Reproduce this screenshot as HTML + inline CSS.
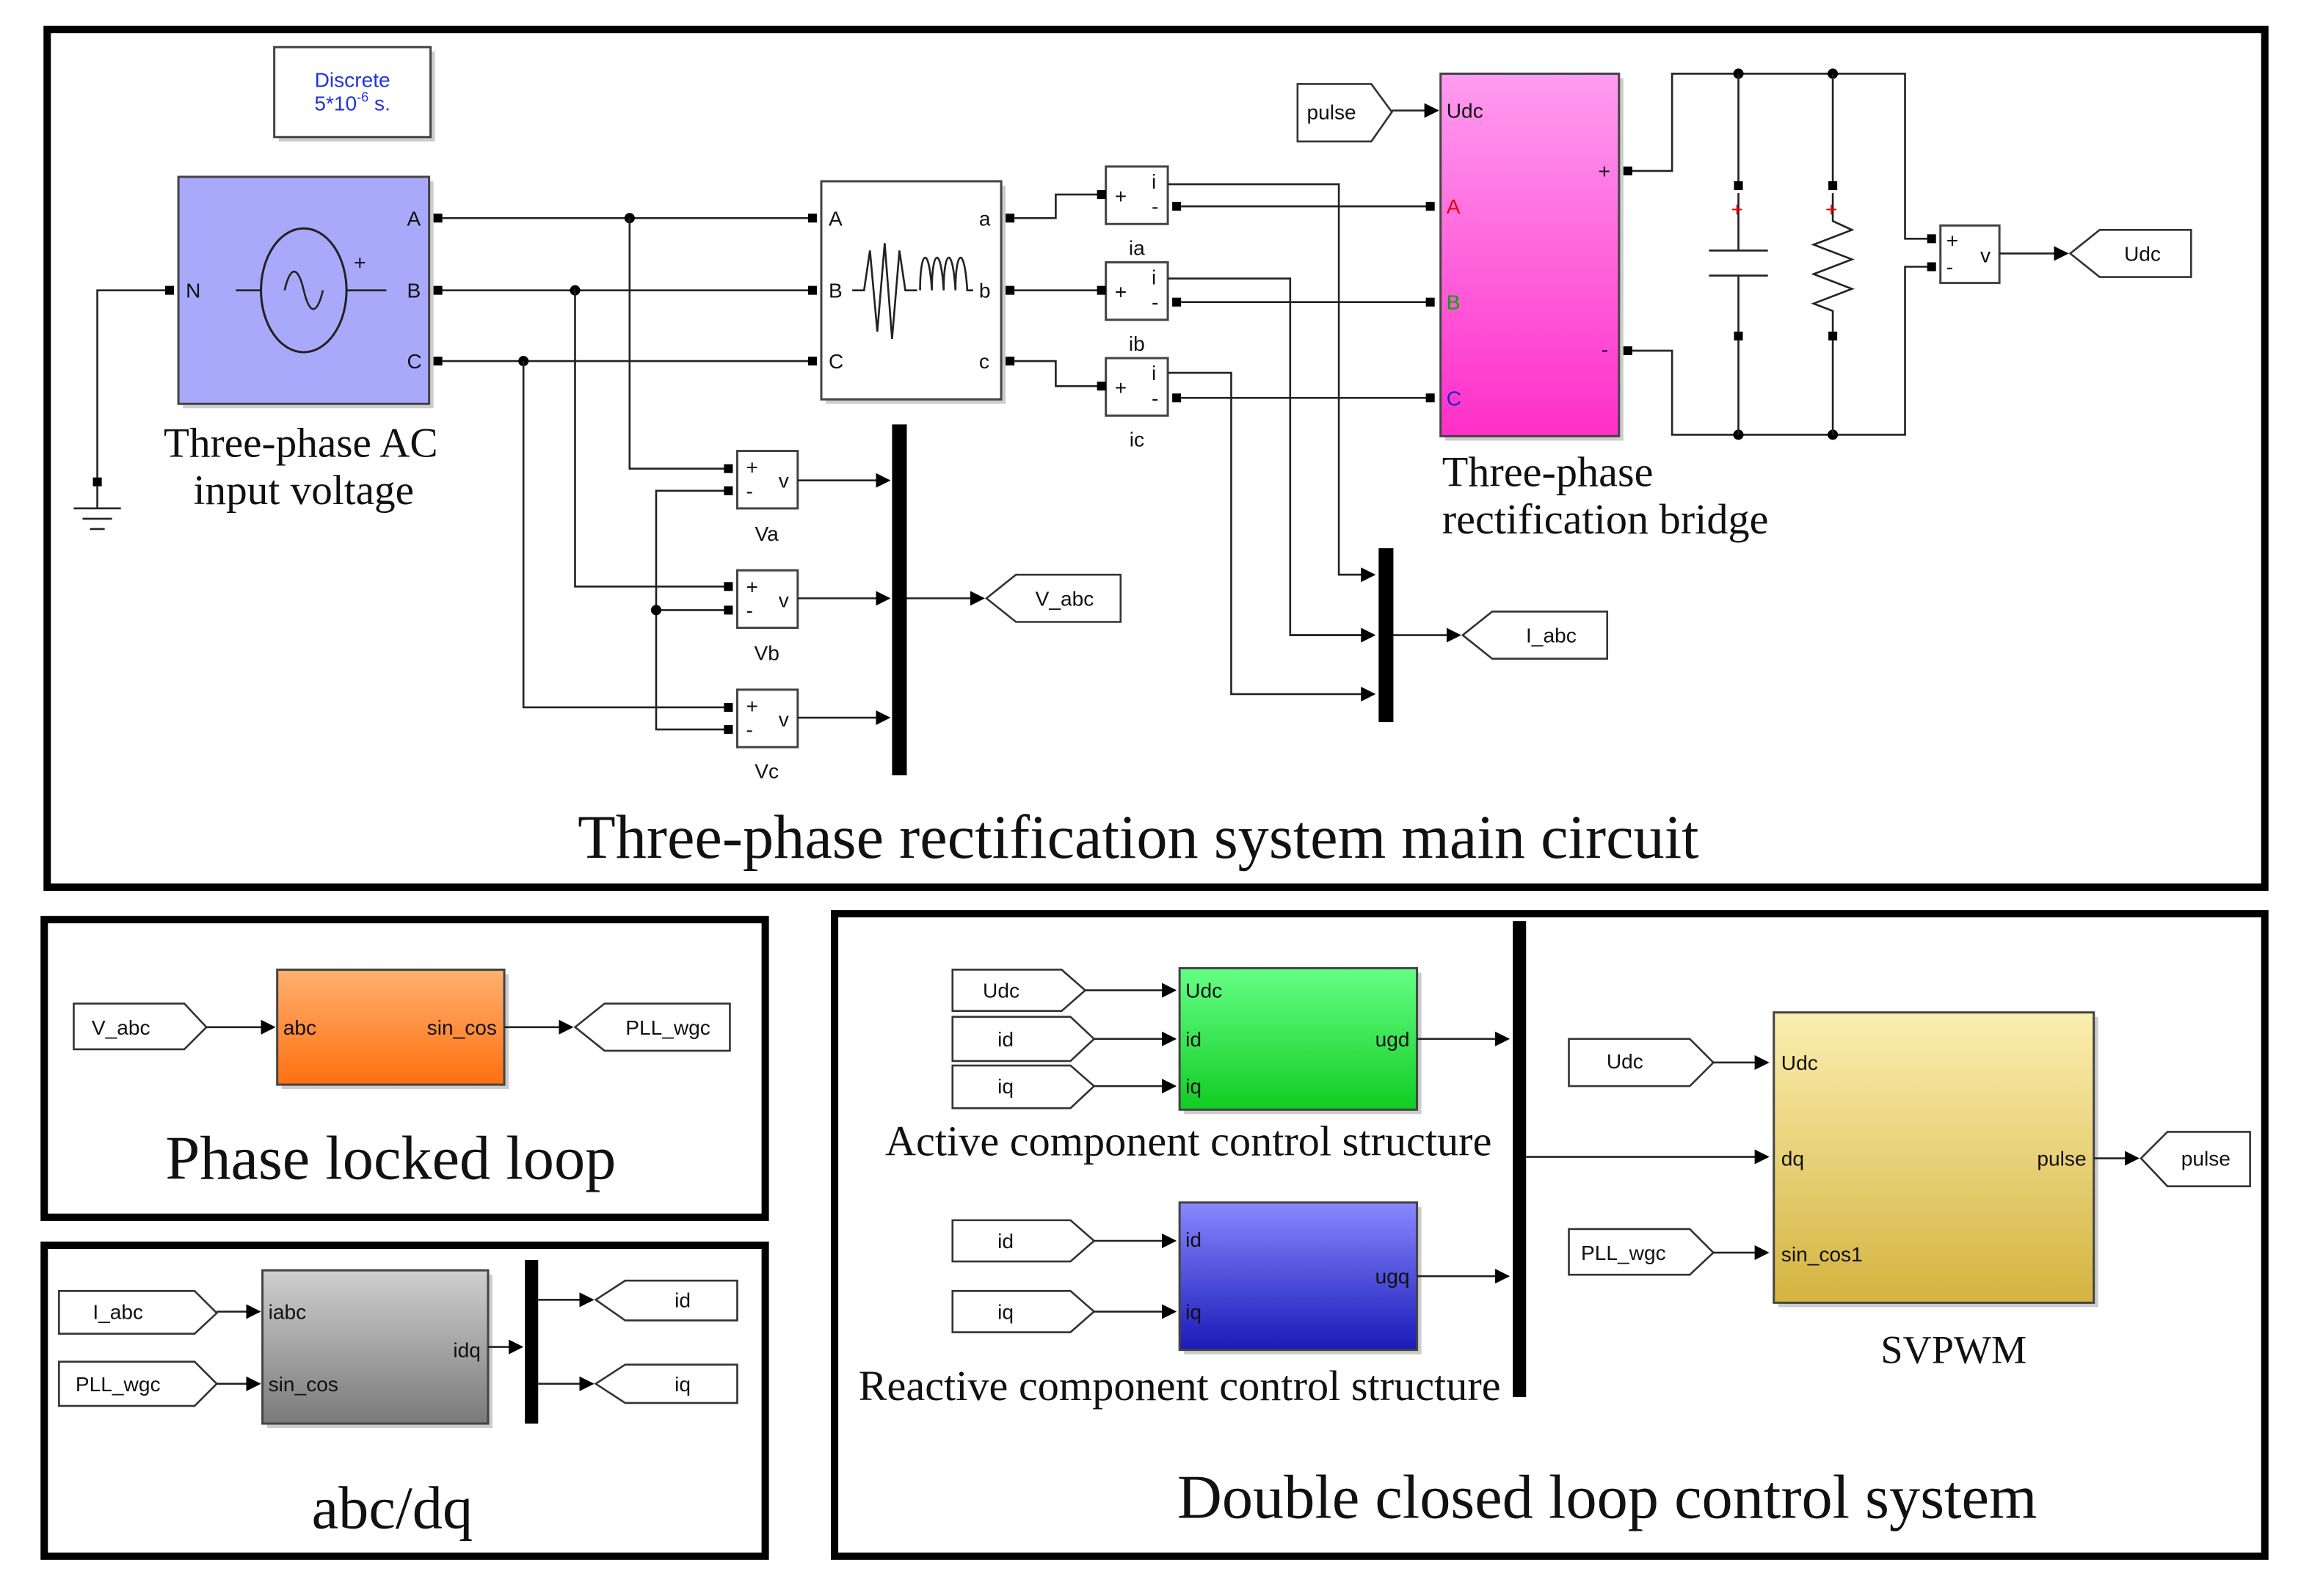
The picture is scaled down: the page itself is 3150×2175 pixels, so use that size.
<!DOCTYPE html>
<html><head><meta charset="utf-8"><style>
html,body{margin:0;padding:0;background:#fff}
svg{display:block}
.s{font-family:"Liberation Sans",sans-serif;font-size:14px;fill:#111}
.t{font-family:"Liberation Serif",serif;fill:#111}
.w{stroke:#222;stroke-width:1.3;fill:none}
.b{stroke:#444;stroke-width:1.5}
</style></head><body>
<svg width="3150" height="2175" viewBox="0 0 1568 1083" preserveAspectRatio="none" xmlns="http://www.w3.org/2000/svg">
<defs>
<marker id="ar" markerWidth="10" markerHeight="10" refX="9" refY="5" orient="auto" markerUnits="userSpaceOnUse"><path d="M0,0 L10,5 L0,10z" fill="#000"/></marker>
<linearGradient id="pk" x1="0" y1="0" x2="0" y2="1"><stop offset="0" stop-color="#ff9cf0"/><stop offset="1" stop-color="#ff2ec8"/></linearGradient>
<linearGradient id="or" x1="0" y1="0" x2="0" y2="1"><stop offset="0" stop-color="#ffb070"/><stop offset="1" stop-color="#ff7010"/></linearGradient>
<linearGradient id="gy" x1="0" y1="0" x2="0" y2="1"><stop offset="0" stop-color="#cfcfcf"/><stop offset="1" stop-color="#7a7a7a"/></linearGradient>
<linearGradient id="gr" x1="0" y1="0" x2="0" y2="1"><stop offset="0" stop-color="#66ff88"/><stop offset="1" stop-color="#11cc22"/></linearGradient>
<linearGradient id="bl" x1="0" y1="0" x2="0" y2="1"><stop offset="0" stop-color="#8888ff"/><stop offset="1" stop-color="#1a1ab8"/></linearGradient>
<linearGradient id="ye" x1="0" y1="0" x2="0" y2="1"><stop offset="0" stop-color="#fbeeb0"/><stop offset="1" stop-color="#d4b440"/></linearGradient>
</defs>

<rect x="32" y="20" width="1504" height="582" fill="none" stroke="#000" stroke-width="5"/>
<rect x="30" y="624" width="489" height="202" fill="none" stroke="#000" stroke-width="5"/>
<rect x="30" y="845" width="489" height="211" fill="none" stroke="#000" stroke-width="5"/>
<rect x="566" y="620" width="970" height="436" fill="none" stroke="#000" stroke-width="5"/>

<rect x="189" y="35" width="106" height="61" fill="#ccc"/>
<rect x="186" y="32" width="106" height="61" fill="#fff" class="b"/>
<text x="239" y="59" class="s" style="fill:#2233dd" text-anchor="middle">Discrete</text>
<text x="239" y="75" class="s" style="fill:#2233dd" text-anchor="middle">5*10<tspan font-size="9" dy="-6">-6</tspan><tspan dy="6"> s.</tspan></text>

<rect x="124" y="123" width="170" height="154" fill="#ccc"/>
<rect x="121" y="120" width="170" height="154" fill="#a9a9fb" class="b"/>
<ellipse cx="206" cy="197" rx="29" ry="42" fill="none" stroke="#222" stroke-width="1.5"/>
<path d="M160,197 H177 M235,197 H262" class="w"/>
<path d="M193,197 C197,180 202,180 206,197 C210,214 215,214 219,197" class="w"/>
<text x="240" y="183" class="s">+</text>
<text x="276" y="153" class="s">A</text><text x="276" y="202" class="s">B</text><text x="276" y="250" class="s">C</text>
<text x="126" y="202" class="s">N</text>
<rect x="294" y="145" width="6" height="6" fill="#000"/><rect x="294" y="194" width="6" height="6" fill="#000"/><rect x="294" y="242" width="6" height="6" fill="#000"/>
<rect x="112" y="194" width="6" height="6" fill="#000"/>
<path d="M112,197 H66 V324" class="w"/>
<rect x="63" y="324" width="6" height="6" fill="#000"/>
<path d="M66,330 V345 M50,345 H82 M56,352 H76 M61,359 H71" class="w"/>
<text x="204" y="310" class="t" font-size="28.5" text-anchor="middle">Three-phase AC</text>
<text x="206" y="342" class="t" font-size="28.5" text-anchor="middle">input voltage</text>

<path d="M300,148 H551 M300,197 H551 M300,245 H551" class="w"/>
<circle cx="427" cy="148" r="3.5"/><circle cx="390" cy="197" r="3.5"/><circle cx="355" cy="245" r="3.5"/>
<path d="M427,148 V318 H494 M390,197 V398 H494 M355,245 V480 H494" class="w"/>
<path d="M494,333 H445 V495 H494 M445,414 H494" class="w"/>
<circle cx="445" cy="414" r="3.5"/>

<rect x="560" y="126" width="122" height="148" fill="#ccc"/>
<rect x="557" y="123" width="122" height="148" fill="#fff" class="b"/>
<text x="562" y="153" class="s">A</text><text x="562" y="202" class="s">B</text><text x="562" y="250" class="s">C</text>
<text x="664" y="153" class="s">a</text><text x="664" y="202" class="s">b</text><text x="664" y="250" class="s">c</text>
<path d="M578,197 H586 L590,170 L595,225 L600,165 L605,230 L610,170 L614,197 H622" class="w"/>
<path d="M624,197 C624,170 630,165 632,197 C632,170 638,165 640,197 C640,170 646,165 648,197 C648,170 654,165 656,197 H660" class="w"/>
<rect x="548" y="145" width="6" height="6"/><rect x="548" y="194" width="6" height="6"/><rect x="548" y="242" width="6" height="6"/>
<rect x="682" y="145" width="6" height="6"/><rect x="682" y="194" width="6" height="6"/><rect x="682" y="242" width="6" height="6"/>

<path d="M688,148 H716 V132 H747 M688,197 H747 M688,245 H716 V262 H747" class="w"/>
<g>
<rect x="750" y="113" width="42" height="39" fill="#fff" class="b"/><rect x="744" y="129" width="6" height="6"/>
<text x="756" y="138" class="s">+</text><text x="781" y="128" class="s" font-size="12">i</text><text x="781" y="145" class="s" font-size="12">-</text>
<rect x="795" y="137" width="6" height="6"/><text x="771" y="173" class="s" font-size="17" text-anchor="middle">ia</text>
<rect x="750" y="178" width="42" height="39" fill="#fff" class="b"/><rect x="744" y="194" width="6" height="6"/>
<text x="756" y="203" class="s">+</text><text x="781" y="193" class="s" font-size="12">i</text><text x="781" y="210" class="s" font-size="12">-</text>
<rect x="795" y="202" width="6" height="6"/><text x="771" y="238" class="s" font-size="17" text-anchor="middle">ib</text>
<rect x="750" y="243" width="42" height="39" fill="#fff" class="b"/><rect x="744" y="259" width="6" height="6"/>
<text x="756" y="268" class="s">+</text><text x="781" y="258" class="s" font-size="12">i</text><text x="781" y="275" class="s" font-size="12">-</text>
<rect x="795" y="267" width="6" height="6"/><text x="771" y="303" class="s" font-size="17" text-anchor="middle">ic</text>
</g>
<path d="M801,140 H970 M801,205 H970 M801,270 H970" class="w"/>
<path d="M792,125 H908 V390 H932 M792,189 H875 V431 H932 M792,253 H835 V471 H932" class="w" marker-end="url(#ar)"/>
<path d="M875,431 H932" class="w" marker-end="url(#ar)"/><path d="M908,390 H932" class="w" marker-end="url(#ar)"/>
<rect x="935" y="372" width="10" height="118" fill="#000"/>
<path d="M945,431 H990" class="w" marker-end="url(#ar)"/>
<path d="M992,431 L1012,415 H1090 V447 H1012 Z" fill="#fff" stroke="#333" stroke-width="1.3"/>
<text x="1052" y="436" class="s" text-anchor="middle">I_abc</text>

<g>
<rect x="500" y="306" width="41" height="39" fill="#fff" class="b"/><rect x="491" y="315" width="6" height="6"/><rect x="491" y="330" width="6" height="6"/>
<text x="506" y="322" class="s">+</text><text x="506" y="338" class="s">-</text><text x="528" y="331" class="s" font-size="12">v</text>
<text x="520" y="367" class="s" font-size="17" text-anchor="middle">Va</text>
<rect x="500" y="387" width="41" height="39" fill="#fff" class="b"/><rect x="491" y="395" width="6" height="6"/><rect x="491" y="411" width="6" height="6"/>
<text x="506" y="403" class="s">+</text><text x="506" y="419" class="s">-</text><text x="528" y="412" class="s" font-size="12">v</text>
<text x="520" y="448" class="s" font-size="17" text-anchor="middle">Vb</text>
<rect x="500" y="468" width="41" height="39" fill="#fff" class="b"/><rect x="491" y="477" width="6" height="6"/><rect x="491" y="492" width="6" height="6"/>
<text x="506" y="484" class="s">+</text><text x="506" y="500" class="s">-</text><text x="528" y="493" class="s" font-size="12">v</text>
<text x="520" y="528" class="s" font-size="17" text-anchor="middle">Vc</text>
</g>
<path d="M541,326 H603" class="w" marker-end="url(#ar)"/><path d="M541,406 H603" class="w" marker-end="url(#ar)"/><path d="M541,487 H603" class="w" marker-end="url(#ar)"/>
<rect x="605" y="288" width="10" height="238" fill="#000"/>
<path d="M615,406 H667" class="w" marker-end="url(#ar)"/>
<path d="M669,406 L689,390 H760 V422 H689 Z" fill="#fff" stroke="#333" stroke-width="1.3"/>
<text x="722" y="411" class="s" text-anchor="middle">V_abc</text>

<rect x="980" y="53" width="121" height="246" fill="#ccc"/>
<rect x="977" y="50" width="121" height="246" fill="url(#pk)" class="b"/>
<text x="981" y="80" class="s" font-size="13">Udc</text>
<text x="981" y="145" class="s" font-size="13" style="fill:#e00">A</text>
<text x="981" y="210" class="s" font-size="13" style="fill:#0a0">B</text>
<text x="981" y="275" class="s" font-size="13" style="fill:#22c">C</text>
<text x="1084" y="121" class="s">+</text><text x="1086" y="242" class="s">-</text>
<rect x="967" y="137" width="6" height="6"/><rect x="967" y="202" width="6" height="6"/><rect x="967" y="267" width="6" height="6"/>
<rect x="1101" y="113" width="6" height="6"/><rect x="1101" y="235" width="6" height="6"/>
<path d="M880,57 H930 L944,76 L930,96 H880 Z" fill="#fff" stroke="#333" stroke-width="1.3"/>
<text x="903" y="81" class="s" text-anchor="middle">pulse</text>
<path d="M944,75 H975" class="w" marker-end="url(#ar)"/>
<text x="978" y="330" class="t" font-size="29">Three-phase</text>
<text x="978" y="362" class="t" font-size="29">rectification bridge</text>

<path d="M1107,116 H1134 V50 H1292 V162 H1312 M1107,238 H1134 V295 H1292 V181 H1312" class="w"/>
<circle cx="1179" cy="50" r="3.5"/><circle cx="1243" cy="50" r="3.5"/><circle cx="1179" cy="295" r="3.5"/><circle cx="1243" cy="295" r="3.5"/>
<path d="M1179,50 V123 M1179,131 V170 M1159,170 H1199 M1159,187 H1199 M1179,187 V225 M1179,231 V295" class="w"/>
<rect x="1176" y="123" width="6" height="6"/><rect x="1176" y="225" width="6" height="6"/>
<text x="1174" y="147" class="s" style="fill:#e00" font-size="13">+</text>
<path d="M1243,50 V123 M1243,131 V150 L1256,156 L1230,166 L1256,176 L1230,186 L1256,196 L1230,206 L1243,211 V225 M1243,231 V295" class="w"/>
<rect x="1240" y="123" width="6" height="6"/><rect x="1240" y="225" width="6" height="6"/>
<text x="1238" y="147" class="s" style="fill:#e00" font-size="13">+</text>
<rect x="1316" y="153" width="40" height="39" fill="#fff" class="b"/>
<rect x="1307" y="159" width="6" height="6"/><rect x="1307" y="178" width="6" height="6"/>
<text x="1320" y="168" class="s">+</text><text x="1320" y="186" class="s">-</text><text x="1343" y="178" class="s" font-size="12">v</text>
<path d="M1356,172 H1402" class="w" marker-end="url(#ar)"/>
<path d="M1404,172 L1424,156 H1486 V188 H1424 Z" fill="#fff" stroke="#333" stroke-width="1.3"/>
<text x="1453" y="177" class="s" text-anchor="middle">Udc</text>

<text x="772" y="582" class="t" font-size="42" text-anchor="middle">Three-phase rectification system main circuit</text>

<path d="M50,681 H125 L140,697 L125,712 H50 Z" fill="#fff" stroke="#333" stroke-width="1.3"/>
<text x="82" y="702" class="s" text-anchor="middle">V_abc</text>
<path d="M140,697 H186" class="w" marker-end="url(#ar)"/>
<rect x="191" y="661" width="154" height="78" fill="#ccc"/>
<rect x="188" y="658" width="154" height="78" fill="url(#or)" class="b"/>
<text x="192" y="702" class="s" font-size="13">abc</text><text x="337" y="702" class="s" font-size="13" text-anchor="end">sin_cos</text>
<path d="M342,697 H388" class="w" marker-end="url(#ar)"/>
<path d="M390,697 L410,681 H495 V713 H410 Z" fill="#fff" stroke="#333" stroke-width="1.3"/>
<text x="453" y="702" class="s" text-anchor="middle">PLL_wgc</text>
<text x="265" y="800" class="t" font-size="42" text-anchor="middle">Phase locked loop</text>

<path d="M40,876 H132 L147,891 L132,905 H40 Z" fill="#fff" stroke="#333" stroke-width="1.3"/>
<text x="80" y="895" class="s" text-anchor="middle">I_abc</text>
<path d="M40,924 H132 L147,939 L132,954 H40 Z" fill="#fff" stroke="#333" stroke-width="1.3"/>
<text x="80" y="944" class="s" text-anchor="middle">PLL_wgc</text>
<path d="M147,890 H176" class="w" marker-end="url(#ar)"/><path d="M147,939 H176" class="w" marker-end="url(#ar)"/>
<rect x="181" y="865" width="153" height="104" fill="#ccc"/>
<rect x="178" y="862" width="153" height="104" fill="url(#gy)" class="b"/>
<text x="182" y="895" class="s" font-size="13">iabc</text><text x="182" y="944" class="s" font-size="13">sin_cos</text>
<text x="326" y="921" class="s" font-size="13" text-anchor="end">idq</text>
<path d="M331,914 H354" class="w" marker-end="url(#ar)"/>
<rect x="356" y="855" width="9" height="111" fill="#000"/>
<path d="M365,882 H402" class="w" marker-end="url(#ar)"/><path d="M365,939 H402" class="w" marker-end="url(#ar)"/>
<path d="M404,882 L424,869 H500 V896 H424 Z" fill="#fff" stroke="#333" stroke-width="1.3"/>
<text x="463" y="887" class="s" text-anchor="middle">id</text>
<path d="M404,939 L424,926 H500 V952 H424 Z" fill="#fff" stroke="#333" stroke-width="1.3"/>
<text x="463" y="944" class="s" text-anchor="middle">iq</text>
<text x="266" y="1037" class="t" font-size="41" text-anchor="middle">abc/dq</text>

<path d="M646,658 H720 L736,672 L720,686 H646 Z" fill="#fff" stroke="#333" stroke-width="1.3"/>
<text x="679" y="677" class="s" text-anchor="middle">Udc</text>
<path d="M646,690 H726 L742,705 L726,720 H646 Z" fill="#fff" stroke="#333" stroke-width="1.3"/>
<text x="682" y="710" class="s" text-anchor="middle">id</text>
<path d="M646,723 H726 L742,737 L726,752 H646 Z" fill="#fff" stroke="#333" stroke-width="1.3"/>
<text x="682" y="742" class="s" text-anchor="middle">iq</text>
<path d="M736,672 H797" class="w" marker-end="url(#ar)"/><path d="M742,705 H797" class="w" marker-end="url(#ar)"/><path d="M742,737 H797" class="w" marker-end="url(#ar)"/>
<rect x="803" y="660" width="161" height="96" fill="#ccc"/>
<rect x="800" y="657" width="161" height="96" fill="url(#gr)" class="b"/>
<text x="804" y="677" class="s" font-size="13">Udc</text><text x="804" y="710" class="s" font-size="13">id</text><text x="804" y="742" class="s" font-size="13">iq</text>
<text x="956" y="710" class="s" font-size="13" text-anchor="end">ugd</text>
<path d="M961,705 H1023" class="w" marker-end="url(#ar)"/>
<text x="806" y="784" class="t" font-size="29" text-anchor="middle">Active component control structure</text>

<path d="M646,828 H726 L742,842 L726,856 H646 Z" fill="#fff" stroke="#333" stroke-width="1.3"/>
<text x="682" y="847" class="s" text-anchor="middle">id</text>
<path d="M646,876 H726 L742,890 L726,904 H646 Z" fill="#fff" stroke="#333" stroke-width="1.3"/>
<text x="682" y="895" class="s" text-anchor="middle">iq</text>
<path d="M742,842 H797" class="w" marker-end="url(#ar)"/><path d="M742,890 H797" class="w" marker-end="url(#ar)"/>
<rect x="803" y="819" width="161" height="100" fill="#ccc"/>
<rect x="800" y="816" width="161" height="100" fill="url(#bl)" class="b"/>
<text x="804" y="846" class="s" font-size="13">id</text><text x="804" y="895" class="s" font-size="13">iq</text>
<text x="956" y="871" class="s" font-size="13" text-anchor="end">ugq</text>
<path d="M961,866 H1023" class="w" marker-end="url(#ar)"/>
<text x="800" y="950" class="t" font-size="29" text-anchor="middle">Reactive component control structure</text>

<rect x="1026" y="625" width="9" height="323" fill="#000"/>
<path d="M1035,785 H1199" class="w" marker-end="url(#ar)"/>
<path d="M1064,705 H1146 L1162,721 L1146,737 H1064 Z" fill="#fff" stroke="#333" stroke-width="1.3"/>
<text x="1102" y="725" class="s" text-anchor="middle">Udc</text>
<path d="M1064,834 H1146 L1162,850 L1146,865 H1064 Z" fill="#fff" stroke="#333" stroke-width="1.3"/>
<text x="1101" y="855" class="s" text-anchor="middle">PLL_wgc</text>
<path d="M1162,721 H1199" class="w" marker-end="url(#ar)"/><path d="M1162,850 H1199" class="w" marker-end="url(#ar)"/>
<rect x="1206" y="690" width="217" height="197" fill="#ccc"/>
<rect x="1203" y="687" width="217" height="197" fill="url(#ye)" class="b"/>
<text x="1208" y="726" class="s" font-size="13">Udc</text><text x="1208" y="791" class="s" font-size="13">dq</text><text x="1208" y="856" class="s" font-size="13">sin_cos1</text>
<text x="1415" y="791" class="s" font-size="13" text-anchor="end">pulse</text>
<path d="M1420,786 H1450" class="w" marker-end="url(#ar)"/>
<path d="M1452,786 L1470,768 H1526 V805 H1470 Z" fill="#fff" stroke="#333" stroke-width="1.3"/>
<text x="1496" y="791" class="s" text-anchor="middle">pulse</text>
<text x="1325" y="925" class="t" font-size="27" text-anchor="middle">SVPWM</text>
<text x="1090" y="1030" class="t" font-size="42" text-anchor="middle">Double closed loop control system</text>
</svg>
</body></html>
